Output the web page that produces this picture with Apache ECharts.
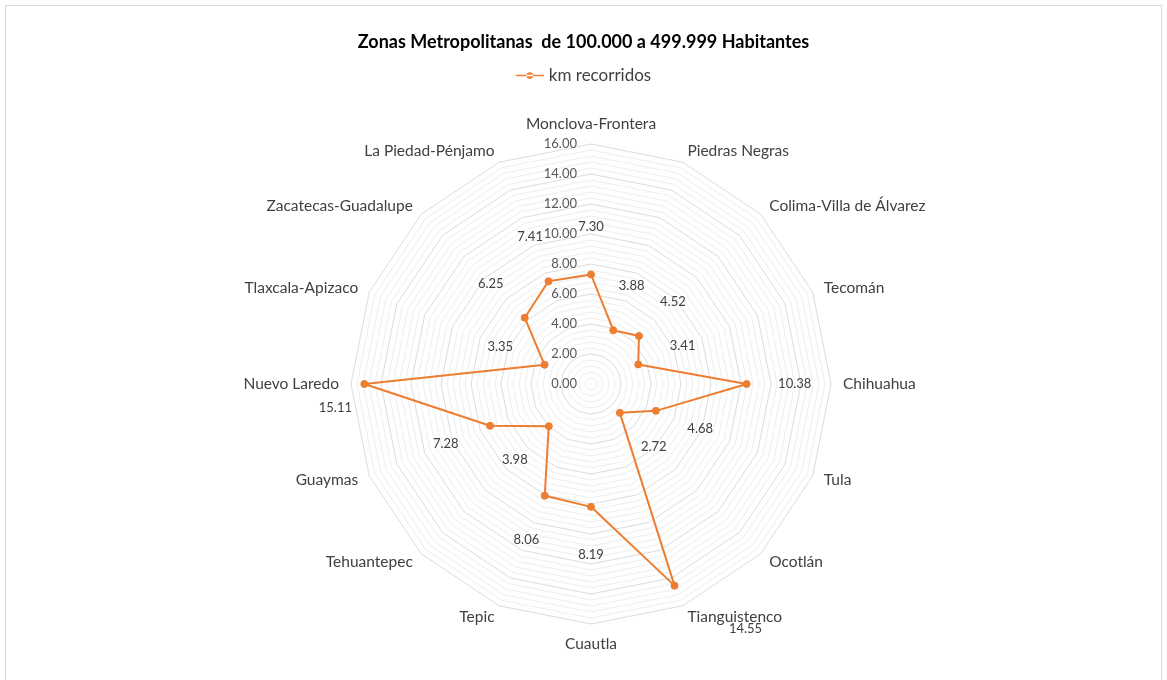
<!DOCTYPE html>
<html>
<head>
<meta charset="utf-8">
<script src="https://cdn.jsdelivr.net/npm/echarts@6/dist/echarts.min.js"></script>
<style>
  html, body { margin: 0; padding: 0; background: #ffffff; }
  #chart { width: 1167px; height: 680px; }
</style>
</head>
<body>
<div id="chart"></div>
<script>
// ---- data (clockwise from the top) ----
const categories = [
  'Monclova-Frontera', 'Piedras Negras', 'Colima-Villa de Álvarez', 'Tecomán',
  'Chihuahua', 'Tula', 'Ocotlán', 'Tianguistenco', 'Cuautla', 'Tepic',
  'Tehuantepec', 'Guaymas', 'Nuevo Laredo', 'Tlaxcala-Apizaco',
  'Zacatecas-Guadalupe', 'La Piedad-Pénjamo'
];
const kmRecorridos = [7.30, 3.88, 4.52, 3.41, 10.38, 4.68, 2.72, 14.55, 8.19, 8.06, 3.98, 7.28, 15.11, 3.35, 6.25, 7.41];
const seriesName = 'km recorridos';
const titleText = 'Zonas Metropolitanas  de 100.000 a 499.999 Habitantes';
const axisMin = 0, axisMax = 16, axisMajor = 2, axisMinorCount = 5;

// ---- layout constants ----
const CX = 591, CY = 384, R = 240;
const LABEL_DIST = 48;
const labelNudge = { 7: [71, 43], 12: [-29, 24] };

const FONT = 'Lato, "Open Sans", sans-serif';
const chart = echarts.init(document.getElementById('chart'));

// ECharts radar runs counter-clockwise: reverse order keeping the first at top
const n = categories.length;
const order = [0];
for (let i = n - 1; i >= 1; i--) order.push(i);

const ringCount = (axisMax - axisMin) / axisMajor * axisMinorCount;
const ringColors = ['#dcdcdc'];
for (let i = 1; i < axisMinorCount; i++) ringColors.push('#eeeeee');

const indicators = order.map((ci, k) => {
  const ind = { name: categories[ci], min: axisMin, max: axisMax };
  if (k === 0) {
    ind.axisLabel = {
      show: true,
      color: '#595959',
      fontSize: 13,
      fontFamily: FONT,
      margin: 14,
      formatter: function (v) {
        const q = v / axisMajor;
        if (Math.abs(q - Math.round(q)) > 1e-6) return '';
        return Number(v).toFixed(2);
      }
    };
  }
  return ind;
});
const orderedValues = order.map(ci => kmRecorridos[ci]);

const legendIcon = 'path://M0,4.4h30v1.6h-30z M15,1.6a3.6,3.6 0 1,0 0.001,0z';

chart.setOption({
  animation: false,
  backgroundColor: '#ffffff',
  graphic: [{
    type: 'rect',
    shape: { x: 5.5, y: 5.5, width: 1156, height: 700 },
    style: { fill: 'none', stroke: '#d9d9d9', lineWidth: 1 },
    silent: true
  }],
  title: {
    text: titleText,
    left: 'center',
    top: 28,
    textStyle: { fontFamily: FONT, fontSize: 18, fontWeight: 'bold', color: '#000000' }
  },
  legend: {
    top: 62,
    left: 'center',
    data: [{ name: seriesName, icon: legendIcon }],
    itemWidth: 28,
    itemHeight: 10,
    itemGap: 4,
    textStyle: { fontFamily: FONT, fontSize: 17, color: '#404040' }
  },
  radar: {
    center: [CX, CY],
    radius: R,
    startAngle: 90,
    shape: 'polygon',
    splitNumber: ringCount,
    indicator: indicators,
    nameGap: 12,
    axisName: { color: '#404040', fontSize: 15.5, fontFamily: FONT },
    axisLine: { show: false },
    axisTick: { show: false },
    axisLabel: { show: false },
    splitArea: { show: false },
    splitLine: { lineStyle: { color: ringColors, width: 1 } }
  },
  series: [{
    name: seriesName,
    type: 'radar',
    symbol: 'circle',
    symbolSize: 7,
    itemStyle: { color: '#ED7D31', borderColor: '#ED7D31' },
    lineStyle: { color: '#ED7D31', width: 2 },
    label: {
      show: true,
      color: '#404040',
      fontSize: 13,
      fontFamily: FONT,
      formatter: function (p) {
        return Number(orderedValues[p.dimensionIndex]).toFixed(2);
      }
    },
    labelLayout: function (p) {
      const px = p.rect.x + p.rect.width / 2;
      const py = p.rect.y + p.rect.height / 2;
      const dx = px - CX, dy = py - CY;
      let ang = Math.atan2(dx, -dy) * 180 / Math.PI;
      if (ang < 0) ang += 360;
      const idx = Math.round(ang / (360 / n)) % n;
      let ox, oy;
      if (labelNudge[idx]) {
        ox = labelNudge[idx][0]; oy = labelNudge[idx][1];
      } else {
        const a = idx * (2 * Math.PI / n);
        ox = Math.sin(a) * LABEL_DIST; oy = -Math.cos(a) * LABEL_DIST;
      }
      return { x: px + ox, y: py + oy, align: 'center', verticalAlign: 'middle' };
    },
    data: [{ value: orderedValues, name: seriesName }]
  }]
});
</script>
</body>
</html>
